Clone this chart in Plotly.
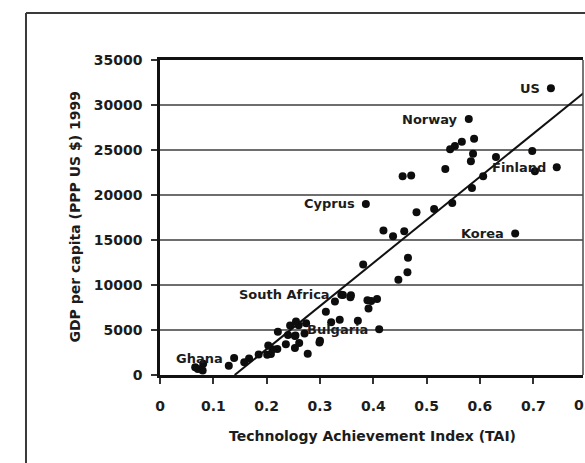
import plotly.graph_objects as go

# Technology Achievement Index vs GDP per capita (PPP US$), 1999
countries = [
    "Finland", "United States", "Sweden", "Japan", "Korea", "Netherlands",
    "United Kingdom", "Canada", "Australia", "Singapore", "Germany", "Norway",
    "Ireland", "Belgium", "New Zealand", "Austria", "France", "Israel", "Spain",
    "Italy", "Czech Republic", "Hungary", "Slovenia", "Hong Kong", "Slovakia",
    "Greece", "Portugal", "Bulgaria", "Poland", "Malaysia", "Croatia", "Mexico",
    "Cyprus", "Argentina", "Romania", "Costa Rica", "Chile", "Uruguay",
    "South Africa", "Thailand", "Trinidad and Tobago", "Panama", "Brazil",
    "Philippines", "China", "Bolivia", "Colombia", "Peru", "Jamaica", "Iran",
    "Tunisia", "Paraguay", "Ecuador", "El Salvador", "Dominican Republic",
    "Syria", "Egypt", "Algeria", "Zimbabwe", "Indonesia", "Honduras",
    "Sri Lanka", "India", "Nicaragua", "Pakistan", "Senegal", "Ghana", "Kenya",
    "Nepal", "Tanzania", "Sudan", "Mozambique",
]
tai = [
    0.744, 0.733, 0.703, 0.698, 0.666, 0.630, 0.606, 0.589, 0.587, 0.585,
    0.583, 0.579, 0.566, 0.553, 0.548, 0.544, 0.535, 0.514, 0.481, 0.471,
    0.465, 0.464, 0.458, 0.455, 0.447, 0.437, 0.419, 0.411, 0.407, 0.396,
    0.391, 0.389, 0.386, 0.381, 0.371, 0.358, 0.357, 0.343, 0.340, 0.337,
    0.328, 0.321, 0.311, 0.300, 0.299, 0.277, 0.274, 0.271, 0.261, 0.260,
    0.255, 0.254, 0.253, 0.253, 0.244, 0.240, 0.236, 0.221, 0.220, 0.211,
    0.208, 0.203, 0.201, 0.185, 0.167, 0.158, 0.139, 0.129, 0.081, 0.080,
    0.071, 0.066,
]
gdp = [
    23096, 31872, 22636, 24898, 15712, 24215, 22093, 26251, 24574, 20767,
    23742, 28433, 25918, 25443, 19104, 25089, 22897, 18440, 18079, 22172,
    13018, 11430, 15977, 22090, 10591, 15414, 16064, 5071, 8450, 8209,
    7387, 8297, 19006, 12277, 6041, 8860, 8652, 8879, 8908, 6132,
    8176, 5875, 7037, 3805, 3617, 2355, 5749, 4622, 3561, 5531,
    5957, 4384, 2994, 4344, 5507, 4454, 3420, 4792, 2876, 2857,
    2340, 3279, 2248, 2279, 1834, 1419, 1881, 1022, 1237, 501,
    664, 861,
]

# countries named on the chart, with the text shown beside each dot
labelled = ["United States", "Norway", "Finland", "Cyprus", "Korea",
            "South Africa", "Bulgaria", "Ghana"]
label_text = ["US", "Norway", "Finland", "Cyprus", "Korea",
              "South Africa", "Bulgaria", "Ghana"]

# fitted trend line (end points)
trend_x = [0.14, 0.80]
trend_y = [0, 31600]

x_ticks = [0, 0.1, 0.2, 0.3, 0.4, 0.5, 0.6, 0.7, 0.8]
x_tick_text = ["0", "0.1", "0.2", "0.3", "0.4", "0.5", "0.6", "0.7", "0.8"]
y_ticks = [0, 5000, 10000, 15000, 20000, 25000, 30000, 35000]

X_MAX = 0.7932
FONT = "DejaVu Sans"
INK = "#1c1c1c"

fig = go.Figure()
fig.add_trace(go.Scatter(
    x=trend_x, y=trend_y, mode="lines",
    line=dict(color="#111111", width=2), hoverinfo="skip",
))
fig.add_trace(go.Scatter(
    x=tai, y=gdp, mode="markers", text=countries,
    marker=dict(color="#0d0d0d", size=8, line=dict(width=0)),
))

annotations = []
for name, txt in zip(labelled, label_text):
    i = countries.index(name)
    annotations.append(dict(
        x=tai[i], y=gdp[i], xref="x", yref="y", text=txt, showarrow=False,
        xanchor="right", yanchor="middle", xshift=-9,
        font=dict(family=FONT, size=13, color=INK, weight="bold"),
    ))

# tick label at the far right end of the x scale
annotations.append(dict(
    x=x_ticks[-1] / X_MAX, y=0, xref="paper", yref="paper",
    text=x_tick_text[-1], showarrow=False, xanchor="center", yanchor="middle",
    yshift=-30, font=dict(family=FONT, size=14, color=INK, weight="bold"),
))
# axis titles
annotations.append(dict(
    x=0.5024, y=0, xref="paper", yref="paper", yshift=-61,
    text="Technology Achievement Index (TAI)", showarrow=False,
    xanchor="center", yanchor="middle",
    font=dict(family=FONT, size=14, color=INK, weight="bold"),
))
annotations.append(dict(
    x=-0.2033, y=0.5, xref="paper", yref="paper", textangle=-90,
    text="GDP per capita (PPP US $) 1999", showarrow=False,
    xanchor="center", yanchor="middle",
    font=dict(family=FONT, size=14, color=INK, weight="bold"),
))

shapes = [
    # right edge of the plot area
    dict(type="line", xref="paper", yref="paper", x0=1, x1=1, y0=0, y1=1,
         line=dict(color="#4a4a4a", width=1.5)),
    # outer frame around the whole figure
    dict(type="line", xref="paper", yref="paper", x0=-0.3168, x1=-0.3168,
         y0=-0.5, y1=1.149, line=dict(color="#3a3a3a", width=2)),
    dict(type="line", xref="paper", yref="paper", x0=-0.3168, x1=1.2,
         y0=1.149, y1=1.149, line=dict(color="#3a3a3a", width=2)),
]

fig.update_layout(
    width=585, height=463,
    margin=dict(l=160, r=2, t=60, b=88),
    paper_bgcolor="white", plot_bgcolor="white",
    showlegend=False,
    annotations=annotations,
    shapes=shapes,
    xaxis=dict(
        range=[0, X_MAX], tickvals=x_ticks[:-1], ticktext=x_tick_text[:-1],
        ticks="outside", ticklen=6, tickwidth=1.5, tickcolor="#333333",
        showline=True, linewidth=2.5, linecolor="#111111", mirror=True,
        showgrid=False, zeroline=False, ticklabelstandoff=10,
        tickfont=dict(family=FONT, size=14, color=INK, weight="bold"),
    ),
    yaxis=dict(
        range=[0, 35000], tickvals=y_ticks, tickformat="d",
        ticks="outside", ticklen=6, tickwidth=1.5, tickcolor="#333333",
        showline=True, linewidth=2.5, linecolor="#111111",
        showgrid=True, gridcolor="#6e6e6e", gridwidth=1.5, zeroline=False,
        ticklabelstandoff=6,
        tickfont=dict(family=FONT, size=14, color=INK, weight="bold"),
    ),
)

fig.write_html("out.html")
